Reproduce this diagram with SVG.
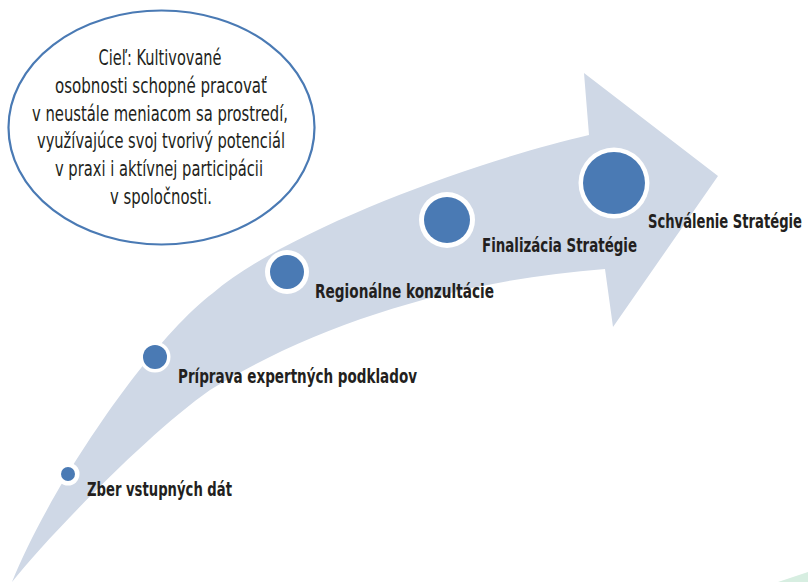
<svg xmlns="http://www.w3.org/2000/svg" width="808" height="582" viewBox="0 0 808 582">
<style>
.lbl{font-family:"Liberation Sans Narrow","DejaVu Sans Condensed","Liberation Sans",sans-serif;font-weight:bold;font-size:19.5px;fill:#231f20}
.goal{font-family:"Liberation Sans Narrow","DejaVu Sans Condensed","Liberation Sans",sans-serif;font-size:21px;fill:#231f20;text-anchor:middle}
.ring{fill:#ffffff}
.dot{fill:#4a7ab4}
</style>
<rect width="808" height="582" fill="#ffffff"/>
<polygon points="778,582 808,572 808,582" fill="#d7eee1"/>
<g id="arrow">
<path d="M12 582 C50 487 150 340 213 293 C290 228 480 160 589 135 L584 73 L718 176 L613 327 L605 269 C460 280 320 322 210 390 C150 432 52 532 12 582 Z" fill="#cfd8e6"/>
</g>
<g id="goal">
<ellipse cx="161.5" cy="127.5" rx="153" ry="117" fill="#ffffff" stroke="#4a7ab4" stroke-width="2.2"/>
<text class="goal" x="160" y="65" textLength="123" lengthAdjust="spacingAndGlyphs">Cieľ: Kultivované</text>
<text class="goal" x="161" y="93" textLength="212" lengthAdjust="spacingAndGlyphs">osobnosti schopné pracovať</text>
<text class="goal" x="160" y="121" textLength="256" lengthAdjust="spacingAndGlyphs">v neustále meniacom sa prostredí,</text>
<text class="goal" x="161" y="148" textLength="248" lengthAdjust="spacingAndGlyphs">využívajúce svoj tvorivý potenciál</text>
<text class="goal" x="159" y="176" textLength="208" lengthAdjust="spacingAndGlyphs">v praxi i aktívnej participácii</text>
<text class="goal" x="161" y="204" textLength="102" lengthAdjust="spacingAndGlyphs">v spoločnosti.</text>
</g>
<g id="step1">
<circle class="ring" cx="68" cy="474" r="11.5"/>
<circle class="dot" cx="68" cy="474" r="7"/>
<text class="lbl" x="87" y="496" textLength="145" lengthAdjust="spacingAndGlyphs">Zber vstupných dát</text>
</g>
<g id="step2">
<circle class="ring" cx="155" cy="357" r="15.5"/>
<circle class="dot" cx="155" cy="357" r="12"/>
<text class="lbl" x="178" y="383" textLength="239" lengthAdjust="spacingAndGlyphs">Príprava expertných podkladov</text>
</g>
<g id="step3">
<circle class="ring" cx="287" cy="272" r="22"/>
<circle class="dot" cx="287" cy="272" r="17"/>
<text class="lbl" x="315" y="298" textLength="179" lengthAdjust="spacingAndGlyphs">Regionálne konzultácie</text>
</g>
<g id="step4">
<circle class="ring" cx="447" cy="220" r="28"/>
<circle class="dot" cx="447" cy="220" r="23"/>
<text class="lbl" x="482" y="252" textLength="155" lengthAdjust="spacingAndGlyphs">Finalizácia Stratégie</text>
</g>
<g id="step5">
<circle class="ring" cx="614" cy="183" r="35.5"/>
<circle class="dot" cx="614" cy="183" r="31"/>
<text class="lbl" transform="translate(648 228) scale(0.75 1)">Schválenie Stratégie</text>
</g>
</svg>
